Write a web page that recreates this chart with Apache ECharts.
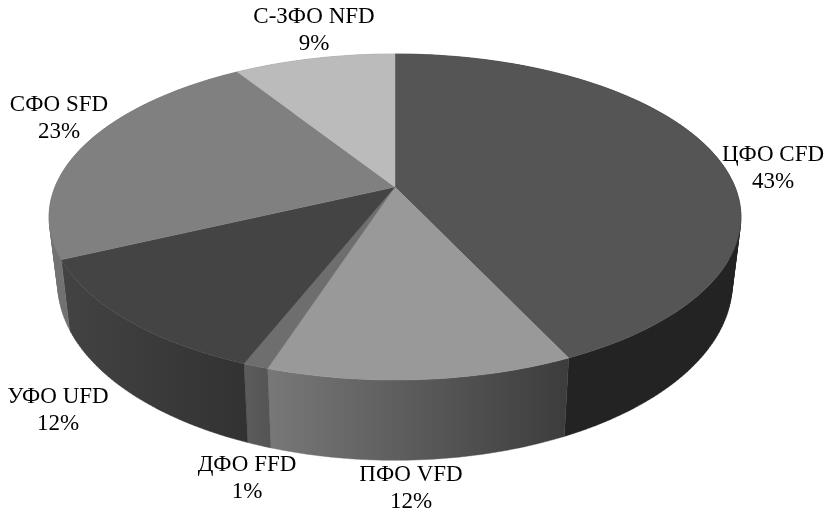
<!DOCTYPE html>
<html>
<head>
<meta charset="utf-8">
<style>
  html, body { margin: 0; padding: 0; background: #fff; }
  #chart { width: 827px; height: 512px; }
</style>
<script src="https://cdn.jsdelivr.net/npm/echarts@6/dist/echarts.min.js"></script>
</head>
<body>
<div id="chart"></div>
<script>
// Federal districts, clockwise from twelve o'clock, share in percent.
const districts = ['ЦФО CFD', 'ПФО VFD', 'ДФО FFD', 'УФО UFD', 'СФО SFD', 'С-ЗФО NFD'];
const shares = [43, 12, 1, 12, 23, 9];

// Fill of the top face of each slice.
const topColors = ['#555555', '#999999', '#6e6e6e', '#444444', '#808080', '#bbbbbb'];
// Rim shading of each slice, left to right.
const rimStart = ['#232323', '#787878', '#5c5c5c', '#434343', '#727272', '#8c8c8c'];
const rimEnd = ['#232323', '#3c3c3c', '#545454', '#323232', '#6a6a6a', '#8c8c8c'];
// Label centres in page pixels.
const labelX = [773, 411, 247, 58, 59, 314];
const labelY = [168, 488, 478, 410, 118, 30];

// Perspective view of the disc: a circle under a projective tilt.
const hub = { x: 395, y: 187 };
const spread = { x: 340, y: 157.5 };
const tilt = 0.184;
// The lower rim is the same outline, slightly narrower and pushed down.
const rimScaleX = 0.975;
const rimScaleY = 1.085;
const rimShiftY = 48;

const total = shares.reduce((a, b) => a + b, 0);
const startOf = shares.map((_, i) => shares.slice(0, i).reduce((a, b) => a + b, 0));

function topPoint(turn) {
  const a = turn * 2 * Math.PI / total;
  const w = 1 + tilt * Math.cos(a);
  return [hub.x + spread.x * Math.sin(a) / w, hub.y - spread.y * Math.cos(a) / w];
}
function lowerPoint(p) {
  return [hub.x + rimScaleX * (p[0] - hub.x), rimScaleY * p[1] + rimShiftY];
}
function arc(from, to) {
  const n = Math.max(2, Math.ceil((to - from) * 4));
  const pts = [];
  for (let i = 0; i <= n; i++) pts.push(topPoint(from + (to - from) * i / n));
  return pts;
}

// One quad as a closed subpath, always wound the same way so the union stays filled.
function quadPath(q) {
  let area = 0;
  q.forEach((p, k) => {
    const r = q[(k + 1) % q.length];
    area += p[0] * r[1] - r[0] * p[1];
  });
  const ordered = area < 0 ? q.slice().reverse() : q;
  return 'M' + ordered.map(p => p[0].toFixed(2) + ' ' + p[1].toFixed(2)).join('L') + 'Z';
}

// The rim is one path of thin quads, so the tangent at each end of the disc fills in.
function renderRim(params, api) {
  const i = params.dataIndex;
  const upper = arc(startOf[i], startOf[i] + api.value(0));
  let d = '';
  for (let k = 0; k + 1 < upper.length; k++) {
    d += quadPath([upper[k], upper[k + 1], lowerPoint(upper[k + 1]), lowerPoint(upper[k])]);
  }
  const fill = new echarts.graphic.LinearGradient(0, 0, 1, 0, [
    { offset: 0, color: rimStart[i] },
    { offset: 1, color: rimEnd[i] }
  ]);
  return {
    type: 'path',
    shape: { pathData: d, layout: 'none' },
    style: { fill: fill, stroke: fill, lineWidth: 0.4 }
  };
}
function renderTop(params, api) {
  const i = params.dataIndex;
  const v = api.value(0);
  const pts = [[hub.x, hub.y]].concat(arc(startOf[i], startOf[i] + v));
  return {
    type: 'polygon',
    shape: { points: pts },
    style: { fill: topColors[i], stroke: topColors[i], lineWidth: 0.4 }
  };
}
function renderLabel(params, api) {
  const i = params.dataIndex;
  return {
    type: 'text',
    style: {
      x: labelX[i],
      y: labelY[i],
      text: districts[i] + '\n' + api.value(0) + '%',
      font: '23px "Liberation Serif", serif',
      lineHeight: 27,
      fill: '#000000',
      align: 'center',
      verticalAlign: 'middle'
    }
  };
}

const chart = echarts.init(document.getElementById('chart'), null, { renderer: 'canvas' });
const rows = shares.map((s, i) => ({ name: districts[i], value: [s] }));
chart.setOption({
  animation: false,
  backgroundColor: '#ffffff',
  series: [
    { type: 'custom', coordinateSystem: 'none', z: 1, renderItem: renderRim, data: rows, silent: true },
    { type: 'custom', coordinateSystem: 'none', z: 2, renderItem: renderTop, data: rows, silent: true },
    { type: 'custom', coordinateSystem: 'none', z: 3, renderItem: renderLabel, data: rows, silent: true }
  ]
});
</script>
</body>
</html>
